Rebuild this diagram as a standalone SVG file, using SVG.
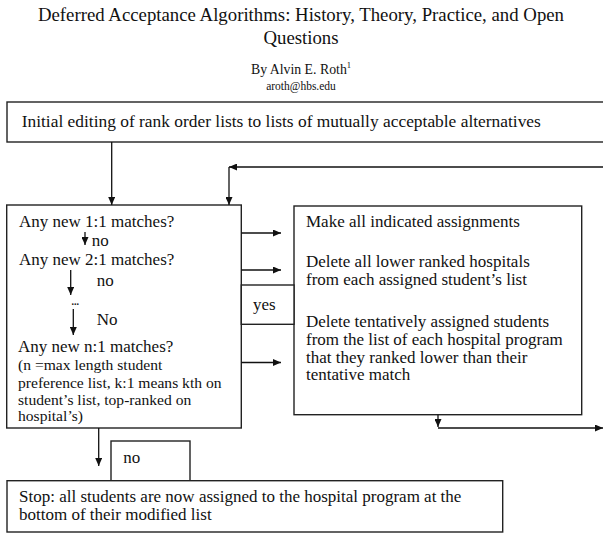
<svg xmlns="http://www.w3.org/2000/svg" width="603" height="533" viewBox="0 0 603 533">
<style>
text { font-family: "Liberation Serif", "Times New Roman", serif; fill: #111; }
.h { font-size: 18.8px; text-anchor: middle; }
.t { font-size: 17px; }
.s { font-size: 15.6px; }
.box { fill: #fff; stroke: #222; stroke-width: 1.4; }
.ln { fill: none; stroke: #111; stroke-width: 1.3; }
</style>
<defs>
<marker id="ah" viewBox="0 0 8 7" refX="8" refY="3.5" markerWidth="8" markerHeight="7" markerUnits="userSpaceOnUse" orient="auto">
<path d="M0,0 L8,3.5 L0,7 z" fill="#111"/>
</marker>
</defs>
<g id="title">
<text class="h" x="301" y="21">Deferred Acceptance Algorithms: History, Theory, Practice, and Open</text>
<text class="h" x="301" y="44">Questions</text>
<text x="301" y="74" style="font-size:13.8px;text-anchor:middle">By Alvin E. Roth<tspan style="font-size:8.5px" dy="-6">1</tspan></text>
<text x="301" y="90" style="font-size:11.5px;text-anchor:middle">aroth@hbs.edu</text>
</g>
<g id="n-init">
<rect class="box" x="7" y="102" width="610" height="40"/>
<text x="21.7" y="127" style="font-size:17.4px">Initial editing of rank order lists to lists of mutually acceptable alternatives</text>
</g>
<g id="n-matches">
<rect class="box" x="6.7" y="205" width="234.6" height="223"/>
<text class="t" x="19" y="227">Any new 1:1 matches?</text>
<text class="t" x="91.7" y="246">no</text>
<text class="t" x="19" y="265">Any new 2:1 matches?</text>
<text class="t" x="96.7" y="286">no</text>
<text x="71" y="305" style="font-size:14px;letter-spacing:-1px">...</text>
<text class="t" x="96.7" y="325">No</text>
<text class="t" x="18" y="352">Any new n:1 matches?</text>
<text class="s" x="18" y="370">(n =max length student</text>
<text class="s" x="18" y="387.5">preference list, k:1 means kth on</text>
<text class="s" x="18" y="404.5">student’s list, top-ranked on</text>
<text class="s" x="18" y="421">hospital’s)</text>
</g>
<g id="n-assign">
<rect class="box" x="294" y="206" width="287.7" height="208.7"/>
<text class="t" x="306" y="227">Make all indicated assignments</text>
<text class="t" x="306" y="267">Delete all lower ranked hospitals</text>
<text class="t" x="306" y="285">from each assigned student’s list</text>
<text class="t" x="306" y="327">Delete tentatively assigned students</text>
<text class="t" x="306" y="345">from the list of each hospital program</text>
<text class="t" x="306" y="362.5">that they ranked lower than their</text>
<text class="t" x="306" y="380">tentative match</text>
</g>
<g id="n-yes">
<rect class="box" x="241.3" y="285" width="52.7" height="39.3"/>
<text class="t" x="253" y="310">yes</text>
</g>
<g id="n-no">
<rect class="box" x="111" y="441" width="79" height="40"/>
<text class="t" x="123.3" y="463">no</text>
</g>
<g id="n-stop">
<rect class="box" x="7" y="480.7" width="495.7" height="51.3"/>
<text class="t" x="19" y="501.5">Stop: all students are now assigned to the hospital program at the</text>
<text class="t" x="19" y="520">bottom of their modified list</text>
</g>
<g id="connectors">
<path class="ln" d="M111.7,142 V205" marker-end="url(#ah)"/>
<path class="ln" d="M603,167 H229" marker-end="url(#ah)"/>
<path class="ln" d="M229,167 V205" marker-end="url(#ah)"/>
<path class="ln" d="M241.3,233 H281" marker-end="url(#ah)"/>
<path class="ln" d="M241.3,270 H281" marker-end="url(#ah)"/>
<path class="ln" d="M241.3,362.5 H281" marker-end="url(#ah)"/>
<path class="ln" d="M85,232 V245" marker-end="url(#ah)"/>
<path class="ln" d="M70.7,270 V295" marker-end="url(#ah)"/>
<path class="ln" d="M73.3,309 V335" marker-end="url(#ah)"/>
<path class="ln" d="M98.7,428 V466" marker-end="url(#ah)"/>
<path class="ln" d="M438,414.7 V427" marker-end="url(#ah)"/>
<path class="ln" d="M438,428 H603" marker-end="url(#ah)"/>
</g>
</svg>
